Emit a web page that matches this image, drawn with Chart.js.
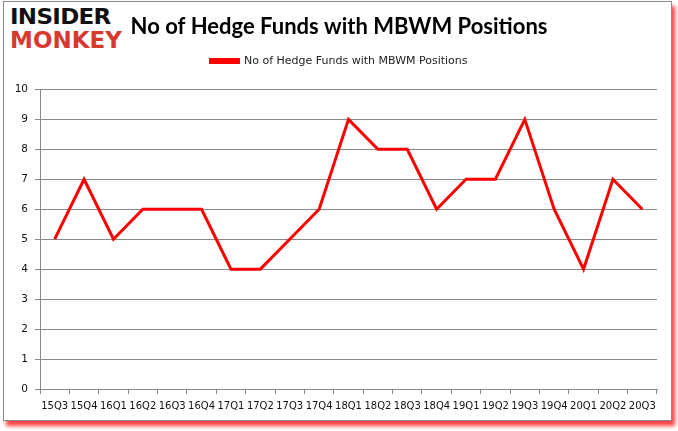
<!DOCTYPE html>
<html>
<head>
<meta charset="utf-8">
<script src="https://cdn.jsdelivr.net/npm/chart.js@4"></script>
<style>
    html, body { margin: 0; padding: 0; background: #fff; }
    body { width: 678px; height: 431px; position: relative; overflow: hidden; }
    #frame {
        position: absolute; left: 3px; top: 1px; width: 667px; height: 418px;
        border: 1px solid #8a8a8a; background: #fff;
        box-shadow: 3px 5px 4px rgba(255, 0, 0, 0.75);
    }
    #logo { position: absolute; left: 10px; top: 7px; font-family: "DejaVu Sans", sans-serif; font-weight: bold; line-height: 1; }
    #logo .top { color: #111; font-size: 23px; letter-spacing: -0.7px; transform: scaleY(0.9); transform-origin: left top; }
    #logo .bottom { color: #d9382e; font-size: 23px; letter-spacing: 0px; margin-top: -1px; }
    #chart { position: absolute; left: 0; top: 0; }
</style>
</head>
<body>
<div id="frame"></div>
<div id="logo"><div class="top">INSIDER</div><div class="bottom">MONKEY</div></div>
<canvas id="chart" width="678" height="431"></canvas>
<script>
"use strict";

const quarters = ["15Q3", "15Q4", "16Q1", "16Q2", "16Q3", "16Q4", "17Q1", "17Q2", "17Q3", "17Q4",
    "18Q1", "18Q2", "18Q3", "18Q4", "19Q1", "19Q2", "19Q3", "19Q4", "20Q1", "20Q2", "20Q3"];
const hedgeFunds = [5, 7, 5, 6, 6, 6, 4, 4, 5, 6, 9, 8, 8, 6, 7, 7, 9, 6, 4, 7, 6];
const seriesName = "No of Hedge Funds with MBWM Positions";
const chartTitle = "No of Hedge Funds with MBWM Positions";

// extra space under the legend
const legendMargin = {
    id: "legendMargin",
    beforeInit(chart) {
        const fit = chart.legend.fit;
        chart.legend.fit = function () {
            fit.bind(chart.legend)();
            this.height += 13;
        };
    }
};

const canvas = document.getElementById("chart");

new Chart(canvas, {
    type: "line",
    data: {
        labels: quarters,
        datasets: [{
            label: seriesName,
            data: hedgeFunds,
            borderColor: "#ff0000",
            backgroundColor: "#ff0000",
            borderWidth: 3,
            pointRadius: 0,
            tension: 0
        }]
    },
    options: {
        responsive: false,
        animation: false,
        layout: { padding: { left: 0, right: 0, top: 0, bottom: 13 } },
        plugins: {
            title: {
                display: true,
                text: chartTitle,
                color: "#000",
                font: { family: "Lato", size: 22, weight: "bold" },
                padding: { top: 14, bottom: 5 }
            },
            legend: {
                labels: {
                    boxWidth: 28,
                    boxHeight: 3,
                    color: "#222",
                    font: { family: "DejaVu Sans", size: 11 },
                    padding: 10
                }
            },
            tooltip: { enabled: false }
        },
        scales: {
            x: {
                offset: true,
                grid: { offset: true, drawOnChartArea: false, tickLength: 5, color: "#888" },
                border: { color: "#888" },
                ticks: {
                    autoSkip: false, maxRotation: 0, padding: 6, color: "#111",
                    font: { family: "DejaVu Sans", size: 10 }
                }
            },
            y: {
                min: 0,
                max: 10,
                afterFit(scale) { scale.width = 40; },
                grid: { color: "#888", tickLength: 5 },
                border: { color: "#888" },
                ticks: {
                    stepSize: 1, padding: 7, color: "#111",
                    font: { family: "DejaVu Sans", size: 10.5 }
                }
            },
            // empty right-hand gutter so the plot ends where the original does
            gutter: {
                position: "right",
                display: true,
                grid: { display: false },
                border: { display: false },
                ticks: { display: false },
                afterFit(scale) { scale.width = 21; }
            }
        }
    },
    plugins: [legendMargin]
});
</script>
</body>
</html>
